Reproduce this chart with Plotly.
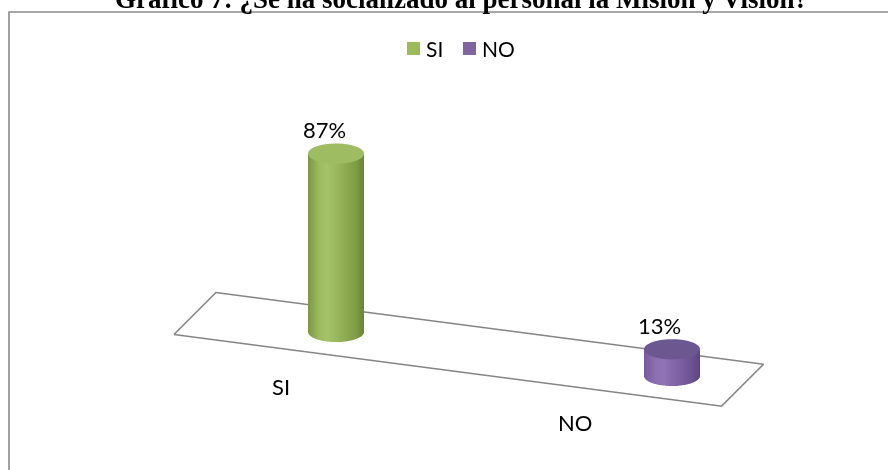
import numpy as np
import plotly.graph_objects as go

# ---------------- data ----------------
categories = ["SI", "NO"]
percentages = [87, 13]
value_labels = ["87%", "13%"]
series_colors = ["#9BBB59", "#8064A2"]

TITLE = "Gráfico 7: ¿Se ha socializado al personal la Misión y Visión?"

# ---------------- styling ----------------
W, H = 888, 470
FONT = "Lato"

# shading across each cylinder body, left silhouette -> right silhouette
side_ramps = [
    [[0, "#7b9743"], [0.2, "#9dbb60"], [0.35, "#a5c36a"], [0.6, "#93b156"], [0.85, "#7f9c46"], [1, "#6a8436"]],
    [[0, "#775b9c"], [0.2, "#8c6fb0"], [0.35, "#8f73b3"], [0.6, "#7f62a4"], [0.85, "#6d5292"], [1, "#5d4481"]],
]
top_colors = ["#9ebc61", "#6d5791"]
floor_color = "#858585"

# ---------------- 3D view ----------------
AZIMUTH = np.radians(-19.9)     # turn of the view about the vertical axis
ELEVATION = np.radians(21.2)    # downward tilt of the view

X_RANGE = [-0.8786, 1.5214]
Y_RANGE = [-1.6, 1.6]
Z_RANGE = [0, 108.4]
ASPECT = dict(x=3.649, y=1.6804, z=1.01434)

CYL_RADIUS = 0.0784             # in category units
FLOOR_PAD = (0.42, 0.21)        # floor overhang left / right of the outer categories
FLOOR_DEPTH = (-0.5, 0.5)

sx = ASPECT["x"] / (X_RANGE[1] - X_RANGE[0])
sy = ASPECT["y"] / (Y_RANGE[1] - Y_RANGE[0])
ry = CYL_RADIUS * sx / sy       # keeps the cross-section circular on screen

eye_dir = np.array([
    -np.cos(ELEVATION) * np.sin(AZIMUTH),
    -np.cos(ELEVATION) * np.cos(AZIMUTH),
    np.sin(ELEVATION),
])
eye = eye_dir * 2.5
right_angle = -AZIMUTH          # direction of screen-right in the floor plane

fig = go.Figure()

flat = dict(ambient=1, diffuse=0, specular=0, roughness=1, fresnel=0)

# ---------------- floor outline ----------------
x_lo = -FLOOR_PAD[0]
x_hi = len(categories) - 1 + FLOOR_PAD[1]
fig.add_trace(go.Scatter3d(
    x=[x_lo, x_lo, x_hi, x_hi, x_lo],
    y=[FLOOR_DEPTH[0], FLOOR_DEPTH[1], FLOOR_DEPTH[1], FLOOR_DEPTH[0], FLOOR_DEPTH[0]],
    z=[0, 0, 0, 0, 0],
    mode="lines",
    line=dict(color=floor_color, width=3),
    hoverinfo="skip",
    showlegend=False,
))

# ---------------- cylinders ----------------
N = 96
t = np.linspace(0, 2 * np.pi, N, endpoint=False)
for i, (cat, val) in enumerate(zip(categories, percentages)):
    ring_x = i + CYL_RADIUS * np.cos(t)
    ring_y = ry * np.sin(t)
    shade = np.cos(t - right_angle)

    xs = np.concatenate([ring_x, ring_x])
    ys = np.concatenate([ring_y, ring_y])
    zs = np.concatenate([np.zeros(N), np.full(N, float(val))])
    I, J, K = [], [], []
    for j in range(N):
        a, b = j, (j + 1) % N
        c, d = N + j, N + (j + 1) % N
        I += [a, a]
        J += [b, d]
        K += [d, c]
    fig.add_trace(go.Mesh3d(
        x=xs, y=ys, z=zs, i=I, j=J, k=K,
        intensity=np.concatenate([shade, shade]),
        colorscale=side_ramps[i], cmin=-1, cmax=1, showscale=False,
        lighting=flat, flatshading=False,
        hoverinfo="skip", name=cat, showlegend=False,
    ))

    # top cap
    cx = np.concatenate([ring_x, [i]])
    cy = np.concatenate([ring_y, [0]])
    cz = np.full(N + 1, float(val))
    fig.add_trace(go.Mesh3d(
        x=cx, y=cy, z=cz,
        i=[N] * N, j=list(range(N)), k=[(j + 1) % N for j in range(N)],
        color=top_colors[i], lighting=flat, flatshading=True,
        hoverinfo="skip", showlegend=False,
    ))

# ---------------- labels in the scene ----------------
scene_ann = []
for i, (val, lab) in enumerate(zip(percentages, value_labels)):
    scene_ann.append(dict(
        x=i, y=0, z=val, text=lab, showarrow=False,
        xanchor="center", yanchor="middle", yshift=24, xshift=-12,
        font=dict(family=FONT, size=22, color="#000000"),
    ))
cat_shift = [(0, 0), (-42, 8)]
for i, cat in enumerate(categories):
    scene_ann.append(dict(
        x=i, y=-1.31, z=0, text=cat, showarrow=False,
        xanchor="center", yanchor="middle",
        xshift=cat_shift[i][0], yshift=cat_shift[i][1],
        font=dict(family=FONT, size=22, color="#000000"),
    ))

hidden = dict(visible=False, showgrid=False, zeroline=False, showbackground=False,
              showspikes=False, autorange=False)

fig.update_layout(
    width=W, height=H,
    margin=dict(l=0, r=0, t=0, b=0),
    paper_bgcolor="white",
    showlegend=False,
    scene=dict(
        domain=dict(x=[0, 1], y=[0, 1]),
        xaxis=dict(range=X_RANGE, **hidden),
        yaxis=dict(range=Y_RANGE, **hidden),
        zaxis=dict(range=Z_RANGE, **hidden),
        aspectmode="manual",
        aspectratio=ASPECT,
        camera=dict(
            eye=dict(x=eye[0], y=eye[1], z=eye[2]),
            center=dict(x=0, y=0, z=0),
            up=dict(x=0, y=0, z=1),
            projection=dict(type="orthographic"),
        ),
        bgcolor="rgba(0,0,0,0)",
        annotations=scene_ann,
    ),
)


def px(x):
    return x / W


def py(y):
    return 1 - y / H


# chart border
shapes = [dict(type="rect", xref="paper", yref="paper",
               x0=px(9), x1=px(W + 20), y0=py(H + 20), y1=py(12),
               line=dict(color="#8b8b8b", width=1.6), fillcolor="rgba(0,0,0,0)")]

# legend
legend_x = [407, 463]
annotations = []
for name, color, lx in zip(categories, series_colors, legend_x):
    shapes.append(dict(type="rect", xref="paper", yref="paper",
                       x0=px(lx), x1=px(lx + 13), y0=py(55), y1=py(42),
                       line=dict(width=0), fillcolor=color))
    annotations.append(dict(x=px(lx + 17), y=py(48.5), xref="paper", yref="paper",
                            text=name, showarrow=False, xanchor="left", yanchor="middle",
                            font=dict(family=FONT, size=21, color="#000000")))

annotations.append(dict(x=px(461), y=py(16), xref="paper", yref="paper",
                        text="<b>" + TITLE + "</b>", showarrow=False,
                        xanchor="center", yanchor="bottom",
                        font=dict(family="Liberation Serif", size=27, color="#000000")))

fig.update_layout(shapes=shapes, annotations=annotations)

fig.write_html("out.html")
